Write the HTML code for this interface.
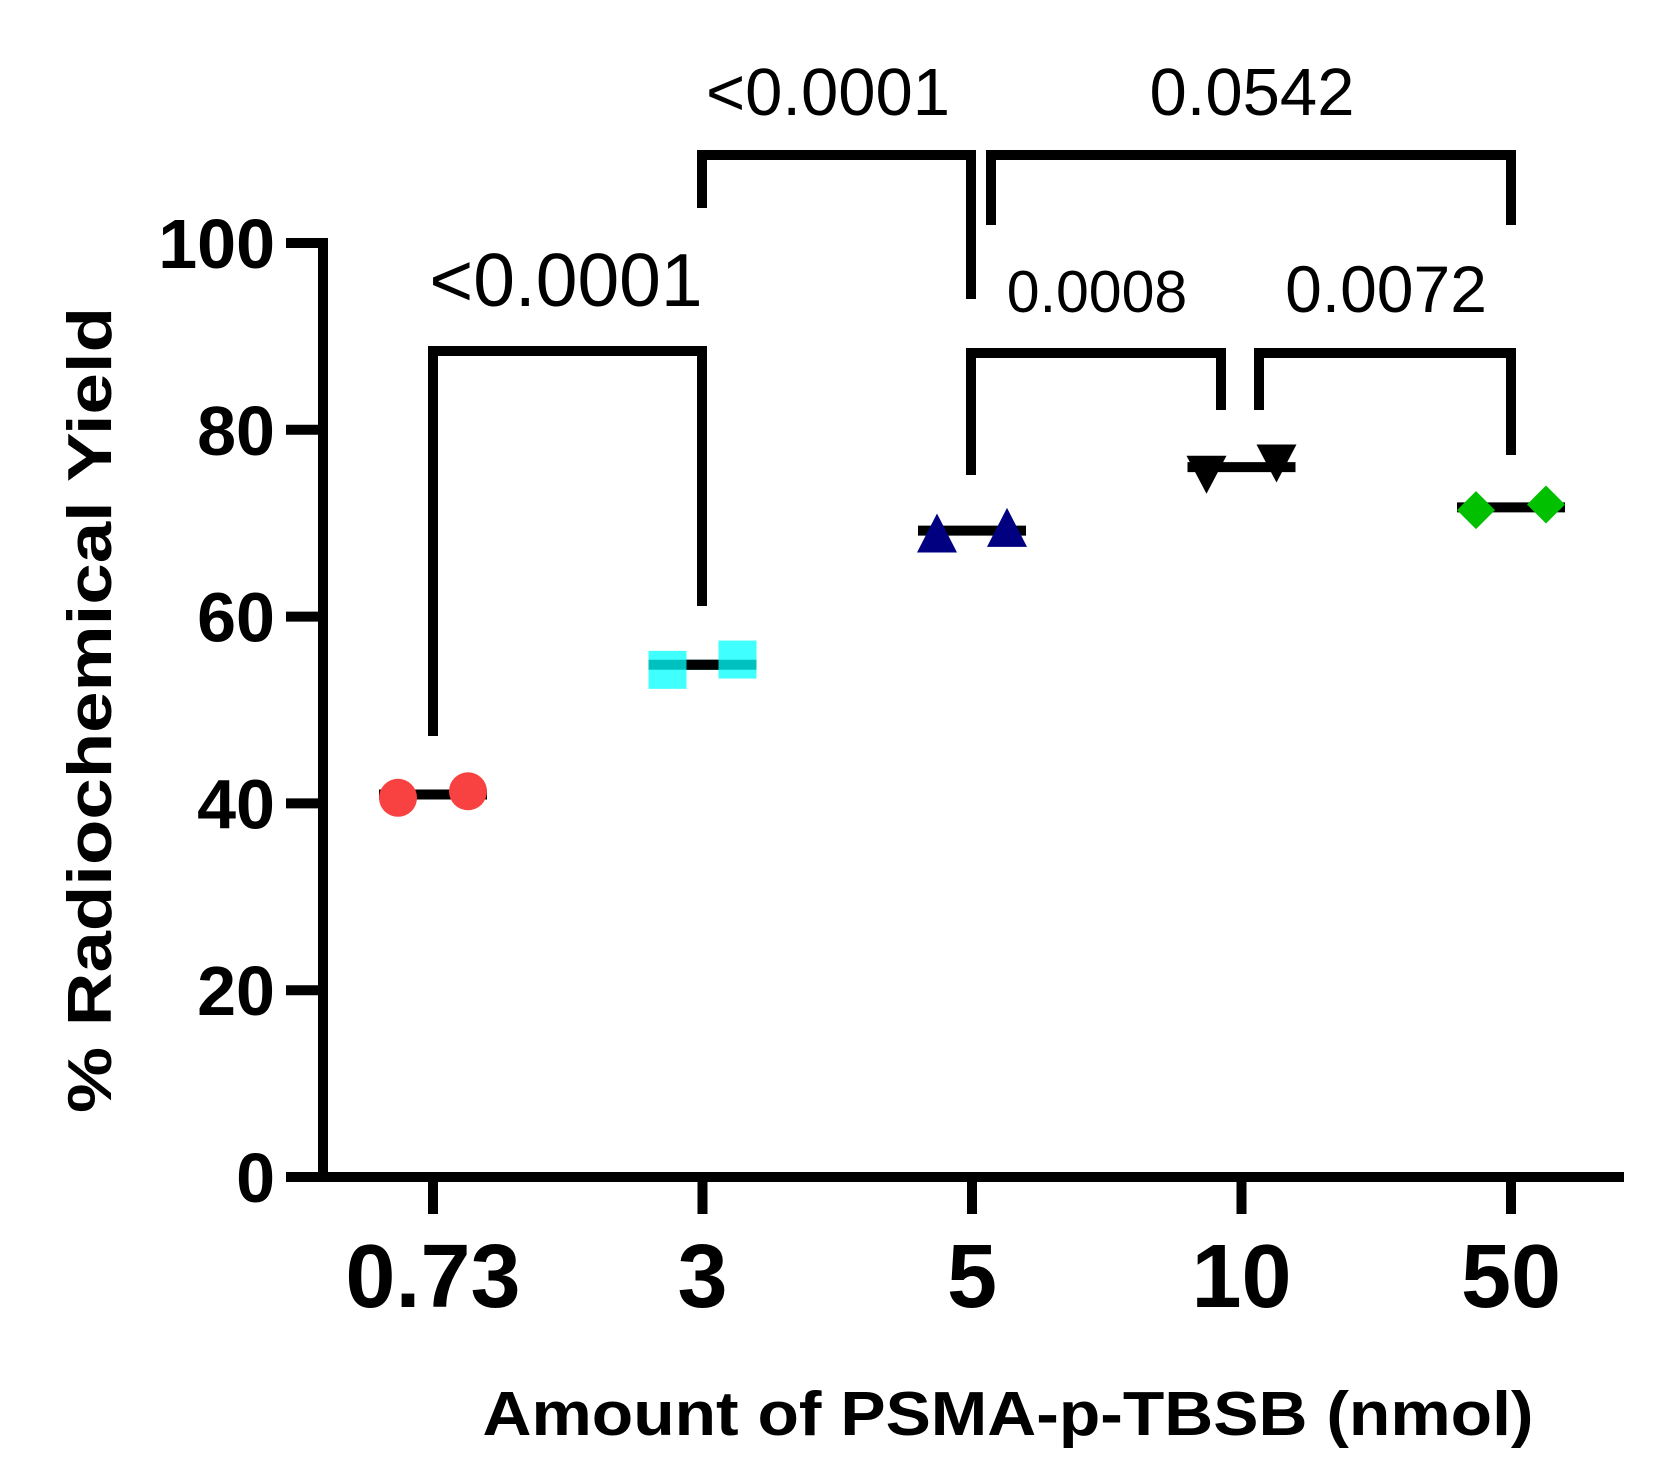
<!DOCTYPE html>
<html><head><meta charset="utf-8"><style>
html,body{margin:0;padding:0;background:#fff;}
svg{display:block;font-family:"Liberation Sans",Arial,sans-serif;}
</style></head><body>
<svg id="chart" width="1668" height="1484" viewBox="0 0 1668 1484" xmlns="http://www.w3.org/2000/svg">
<g id="axes"></g>
<g id="brackets"></g>
<g id="marks"></g>
<text x="1008" y="1435" font-size="62" font-weight="bold" text-anchor="middle" textLength="1051" lengthAdjust="spacingAndGlyphs">Amount of PSMA-p-TBSB (nmol)</text>
<text x="0" y="0" transform="translate(111,710) rotate(-90)" font-size="62" font-weight="bold" text-anchor="middle" textLength="806" lengthAdjust="spacingAndGlyphs">% Radiochemical Yield</text>
</svg>
<script>
const categories = ["0.73","3","5","10","50"];
const rep1 = [40.6, 54.3, 68.9, 75.4, 71.4];
const rep2 = [41.3, 55.4, 69.5, 76.6, 72.0];
const yTicks = [0,20,40,60,80,100];
const pLabels = ["<0.0001","<0.0001","0.0542","0.0008","0.0072"];
const pFrom = [0,1,2,2,3];
const pTo = [1,2,4,3,4];

const NS="http://www.w3.org/2000/svg";
const X0=433, DX=269.5, Y0=1177, YS=9.34;
const xS=i=>X0+i*DX;
const yS=v=>Y0-v*YS;
function mk(tag,attrs,parent){const e=document.createElementNS(NS,tag);for(const k in attrs)e.setAttribute(k,attrs[k]);parent.appendChild(e);return e;}
const axes=document.getElementById('axes'),br=document.getElementById('brackets'),marks=document.getElementById('marks');

let e=mk('line',{x1:323,y1:yS(100)-5,x2:323,y2:Y0+5,stroke:'#000','stroke-width':10},axes);


e=mk('line',{x1:286,y1:Y0,x2:1624,y2:Y0,stroke:'#000','stroke-width':10},axes);


yTicks.forEach(v=>{
  let t=mk('line',{x1:286,y1:yS(v),x2:323,y2:yS(v),stroke:'#000','stroke-width':10},axes);
  
  
  let l=mk('text',{x:275,y:yS(v)+25,'font-size':70,'font-weight':'bold','text-anchor':'end'},axes);
  l.textContent=v;
  
  
});
categories.forEach((c,i)=>{
  let t=mk('line',{x1:xS(i),y1:Y0,x2:xS(i),y2:1214,stroke:'#000','stroke-width':10},axes);
  
  
  let l=mk('text',{x:xS(i),y:1307,'font-size':90,'font-weight':'bold','text-anchor':'middle'},axes);
  l.textContent=c;
  
  
});

const bTop=[351,155,155,353,353], bL=[736,208,225,475,410], bR=[606,299,225,410,455];
const bxL=[433,702,991,971,1259], bxR=[702,971,1511,1221,1511];
const lblX=[566,828,1252,1097,1386], lblY=[306,115,115,312,312], lblF=[75,67,67,59,66];
pLabels.forEach((p,k)=>{
  let pl=mk('polyline',{points:`${bxL[k]},${bL[k]} ${bxL[k]},${bTop[k]} ${bxR[k]},${bTop[k]} ${bxR[k]},${bR[k]}`,fill:'none',stroke:'#000','stroke-width':10,'stroke-linejoin':'miter'},br);
  
  
  let t=mk('text',{x:lblX[k],y:lblY[k],'font-size':lblF[k],'text-anchor':'middle'},br);
  t.textContent=p;
  
  
});

const colors=['#f84242','#40ffff','#000080','#000000','#00c000'];
function marker(i,v,dx){
  const cx=xS(i)+dx, cy=yS(v), c=colors[i]; let m;
  if(i===0) m=mk('circle',{cx,cy,r:19,fill:c},marks);
  else if(i===1) m=mk('rect',{x:cx-19,y:cy-19,width:38,height:38,fill:c},marks);
  else if(i===2) m=mk('polygon',{points:`${cx},${cy-20} ${cx+20},${cy+19} ${cx-20},${cy+19}`,fill:c},marks);
  else if(i===3) m=mk('polygon',{points:`${cx-20},${cy-17} ${cx+20},${cy-17} ${cx},${cy+21}`,fill:c},marks);
  else m=mk('polygon',{points:`${cx},${cy-19} ${cx+19},${cy} ${cx},${cy+19} ${cx-19},${cy}`,fill:c},marks);
  
  
}
categories.forEach((c,i)=>{
  const mean=(rep1[i]+rep2[i])/2;
  let ln=mk('line',{x1:xS(i)-54,y1:yS(mean),x2:xS(i)+54,y2:yS(mean),stroke:'#000','stroke-width':10},marks);
  
  
  marker(i,rep1[i],-35);
  marker(i,rep2[i],35);
  if(i===1){
    let ov=mk('line',{x1:xS(i)-54,y1:yS(mean),x2:xS(i)+54,y2:yS(mean),stroke:'#00c0c0','stroke-width':10},marks);
    
    
    let gap=mk('line',{x1:xS(i)-16,y1:yS(mean),x2:xS(i)+16,y2:yS(mean),stroke:'#000','stroke-width':10},marks);
    
    
  }
});
</script>
</body></html>
